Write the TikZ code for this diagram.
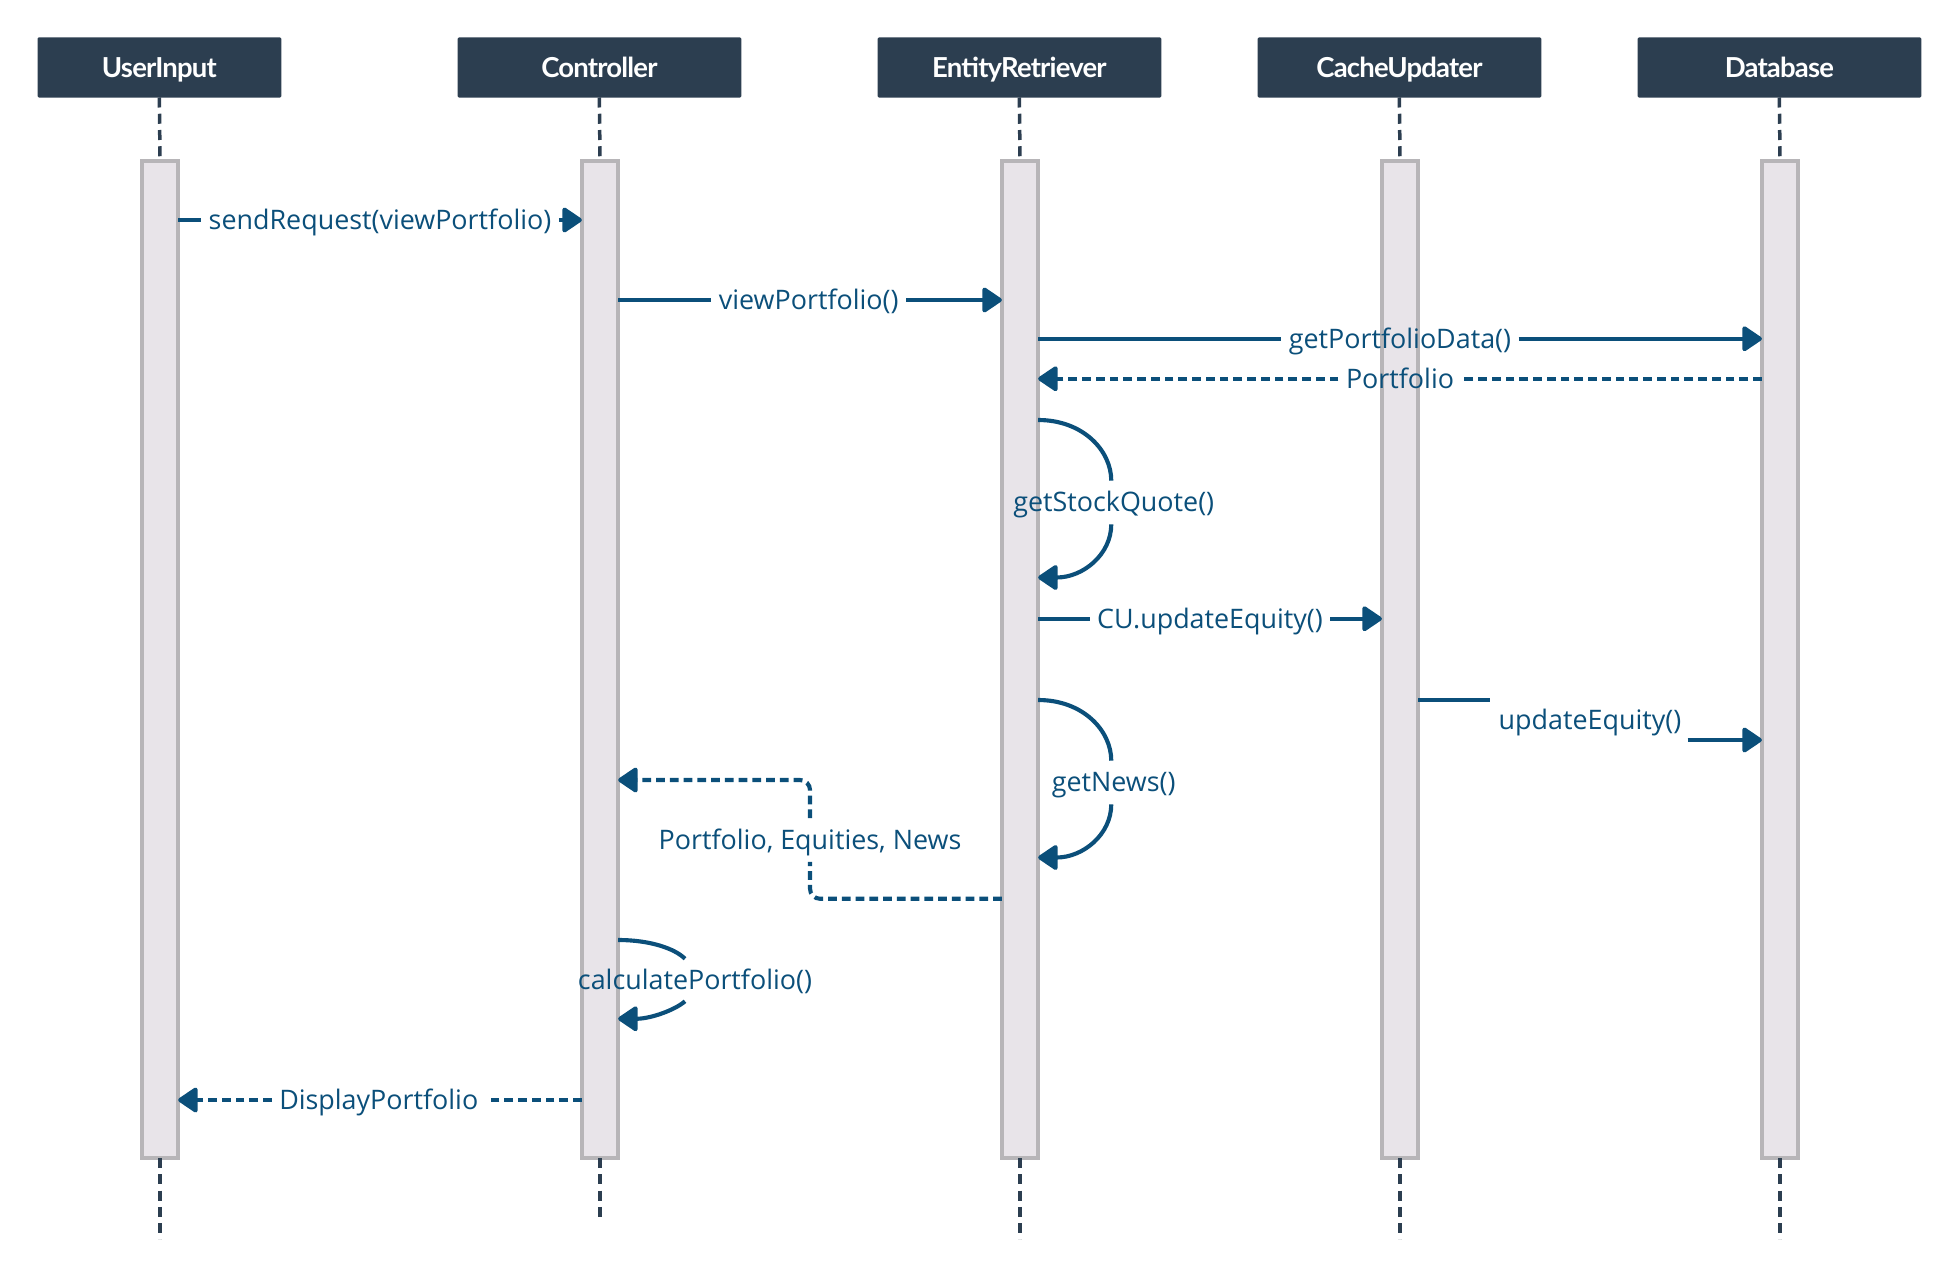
\documentclass[tikz,border=0pt]{standalone}
\usepackage{fontspec}
\setmainfont{Open Sans}
\newfontfamily\headfont{Lato}[LetterSpace=-3]
\usetikzlibrary{arrows.meta}
\definecolor{headblue}{HTML}{2C3E50}
\definecolor{msgblue}{HTML}{0B4F7A}
\definecolor{barfill}{HTML}{E8E4E9}
\definecolor{bardraw}{HTML}{B7B5B8}
\begin{document}
\begin{tikzpicture}[x=1pt,y=-1pt,inner sep=0pt,outer sep=0pt,
actor/.style={fill=headblue,text=white,minimum width=227pt,minimum height=48pt,rounded corners=1pt,text height=17pt,text depth=1pt,font=\headfont\bfseries\fontsize{22}{26}\selectfont},
actbar/.style={draw=bardraw,fill=barfill,line width=3pt,minimum width=29pt,minimum height=798pt},
life/.style={draw=headblue,line width=2.8pt,dash pattern=on 8pt off 5pt},
msgline/.style={draw=msgblue,line width=3.3pt},
msg/.style={msgline,-{Triangle[length=17pt,width=22pt,round]}},
replyline/.style={msgline,dash pattern=on 7pt off 4pt},
reply/.style={replyline,-{Triangle[length=17pt,width=22pt,round]}},
lbl/.style={text=msgblue,inner sep=6pt,text height=19pt,text depth=4pt,font=\fontsize{21.5}{25}\selectfont}]
\useasboundingbox (0,0) rectangle (1568,1025);
% lifeline heads
\node[actor,minimum width=195pt] (ui) at (127.5,54) {UserInput};
\node[actor] (ctrl) at (479.5,54) {Controller};
\node[actor] (er) at (815.5,54) {EntityRetriever};
\node[actor] (cu) at (1119.5,54) {CacheUpdater};
\node[actor] (db) at (1423.5,54) {Database};
% activation bars
\node[actbar] (uibar) at (128,527.5) {};
\node[actbar] (ctrlbar) at (480,527.5) {};
\node[actbar] (erbar) at (816,527.5) {};
\node[actbar] (cubar) at (1120,527.5) {};
\node[actbar] (dbbar) at (1424,527.5) {};
\foreach \n in {ui,ctrl,er,cu,db}
  \draw[life] (\n.south) -- (\n bar.north);
\draw[life] (uibar.south) -- ++(0,65);
\draw[life] (ctrlbar.south) -- ++(0,47);
\draw[life] (erbar.south) -- ++(0,65);
\draw[life] (cubar.south) -- ++(0,65);
\draw[life] (dbbar.south) -- ++(0,65);
% messages
\node[lbl] (sendreq) at (304,176) {sendRequest(viewPortfolio)};
\draw[msgline] (uibar.east |- sendreq) -- (sendreq.west);
\draw[msg] (sendreq.east) -- (ctrlbar.west |- sendreq);
\node[lbl] (viewpf) at (647,240) {viewPortfolio()};
\draw[msgline] (ctrlbar.east |- viewpf) -- (viewpf.west);
\draw[msg] (viewpf.east) -- (erbar.west |- viewpf);
\node[lbl] (getpfd) at (1120,271) {getPortfolioData()};
\draw[msgline] (erbar.east |- getpfd) -- (getpfd.west);
\draw[msg] (getpfd.east) -- (dbbar.west |- getpfd);
\node[lbl] (pfret) at (1120,303) {Portfolio};
\draw[replyline] (dbbar.west |- pfret) -- (pfret.east);
\draw[reply] (pfret.west) -- (erbar.east |- pfret);
% self call getStockQuote
\node[lbl] (gsq) at (891,402) {getStockQuote()};
\coordinate (gsqin) at (832,336);
\coordinate (gsqout) at (832,462);
\draw[msgline] (erbar.east |- gsqin) .. controls +(36,0) and +(0,-24) .. ([xshift=-2pt]gsq.north);
\draw[msg] ([xshift=-2pt]gsq.south) .. controls +(0,24) and +(36,0) .. (erbar.east |- gsqout);
\node[lbl] (cuupd) at (968,495) {CU.updateEquity()};
\draw[msgline] (erbar.east |- cuupd) -- (cuupd.west);
\draw[msg] (cuupd.east) -- (cubar.west |- cuupd);
% updateEquity with a step
\node[lbl] (upd) at (1272,576) {updateEquity()};
\coordinate (updA) at (1192,560);
\coordinate (updB) at (1350,592);
\draw[msgline] (cubar.east |- updA) -- (updA);
\draw[msg] (updB) -- (dbbar.west |- updB);
% self call getNews
\node[lbl] (news) at (891,626) {getNews()};
\coordinate (newsin) at (832,560);
\coordinate (newsout) at (832,686);
\draw[msgline] (erbar.east |- newsin) .. controls +(36,0) and +(0,-24) .. ([xshift=-2pt]news.north);
\draw[msg] ([xshift=-2pt]news.south) .. controls +(0,24) and +(36,0) .. (erbar.east |- newsout);
% return to controller
\node[lbl] (pen) at (648,672) {Portfolio, Equities, News};
\coordinate (penlow) at (648,719);
\coordinate (penhigh) at (648,624);
\draw[replyline,rounded corners=8pt] (erbar.west |- penlow) -- (penlow) -- (pen.south);
\draw[reply,rounded corners=8pt] (pen.north) -- (penhigh) -- (ctrlbar.east |- penhigh);
% self call calculatePortfolio
\node[lbl] (calc) at (556,784) {calculatePortfolio()};
\coordinate (calcin) at (496,752);
\coordinate (calcout) at (496,815);
\draw[msgline] (ctrlbar.east |- calcin) .. controls +(26,0) and +(-8,-8) .. (548,767);
\draw[msg] (548,801) .. controls +(-8,7) and +(26,0) .. (ctrlbar.east |- calcout);
\node[lbl] (disp) at (303,880) {DisplayPortfolio};
\draw[replyline] (ctrlbar.west |- disp) -- (disp.east);
\draw[reply] (disp.west) -- (uibar.east |- disp);
\end{tikzpicture}
\end{document}
